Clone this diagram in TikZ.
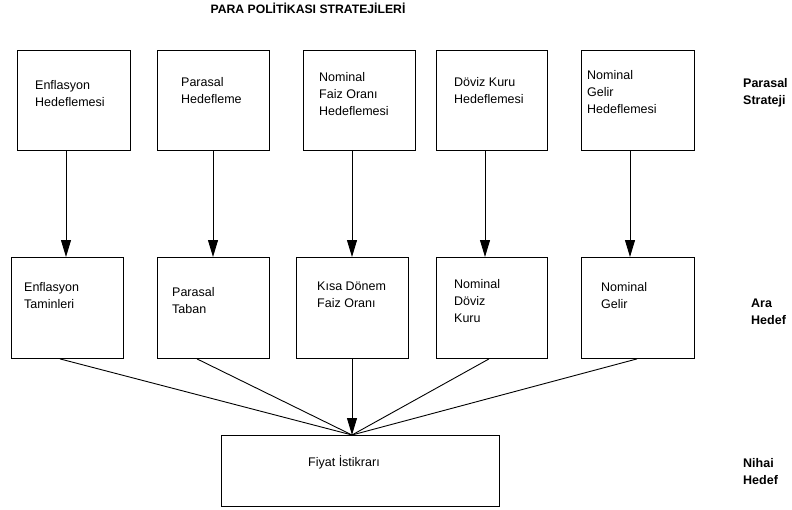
\documentclass[tikz,border=0pt]{standalone}
\usepackage{fontspec}
\setmainfont{Liberation Sans}
\usetikzlibrary{arrows.meta}
\begin{document}
\begin{tikzpicture}[x=1pt,y=-1pt,
  box/.style={draw,line width=0.9pt,inner sep=0pt,anchor=north west},
  txt/.style={anchor=base west,inner sep=0pt,align=left,font=\fontsize{12.5}{17}\selectfont},
  lbl/.style={anchor=base west,inner sep=0pt,align=left,font=\fontsize{12.5}{17.5}\selectfont\bfseries},
  arr/.style={line width=0.9pt,-{Triangle[length=17pt,width=10pt]}},
  conn/.style={line width=0.9pt}]
\useasboundingbox (0,0) rectangle (792,509);
% title
\node[anchor=base,inner sep=0pt,font=\fontsize{12.2}{14}\selectfont\bfseries] (title) at (308,13) {PARA POLİTİKASI STRATEJİLERİ};
% top boxes
\node[box,minimum width=113pt,minimum height=100pt] (t1) at (17,50) {};
\node[box,minimum width=112pt,minimum height=100pt] (t2) at (157,50) {};
\node[box,minimum width=112pt,minimum height=100pt] (t3) at (303,50) {};
\node[box,minimum width=111pt,minimum height=100pt] (t4) at (436,50) {};
\node[box,minimum width=113pt,minimum height=100pt] (t5) at (581,50) {};
% base anchor = baseline of last line
\node[txt] (tt1) at (35,106) {Enflasyon\\Hedeflemesi};
\node[txt] (tt2) at (181,103) {Parasal\\Hedefleme};
\node[txt] (tt3) at (319,115) {Nominal\\Faiz Oranı\\Hedeflemesi};
\node[txt] (tt4) at (454,103) {Döviz Kuru\\Hedeflemesi};
\node[txt] (tt5) at (587,113) {Nominal\\Gelir\\Hedeflemesi};
% middle boxes
\node[box,minimum width=112pt,minimum height=101pt] (m1) at (11,257) {};
\node[box,minimum width=112pt,minimum height=101pt] (m2) at (157,257) {};
\node[box,minimum width=112pt,minimum height=101pt] (m3) at (296,257) {};
\node[box,minimum width=111pt,minimum height=101pt] (m4) at (436,257) {};
\node[box,minimum width=113pt,minimum height=101pt] (m5) at (581,257) {};
\node[txt] (mt1) at (24,308) {Enflasyon\\Taminleri};
\node[txt] (mt2) at (172,313) {Parasal\\Taban};
\node[txt] (mt3) at (317,307) {Kısa Dönem\\Faiz Oranı};
\node[txt] (mt4) at (454,322) {Nominal\\Döviz\\Kuru};
\node[txt] (mt5) at (601,308) {Nominal\\Gelir};
% bottom box
\node[box,minimum width=278pt,minimum height=71pt] (f) at (221,435) {};
\node[txt] (ft) at (308,466) {Fiyat İstikrarı};
% side labels
\node[lbl] (l1) at (743,104.5) {Parasal\\Strateji};
\node[lbl] (l2) at (751,324.5) {Ara\\Hedef};
\node[lbl] (l3) at (743,484.5) {Nihai\\Hedef};
% arrow x positions
\coordinate (a1) at (66,0);
\coordinate (a2) at (213,0);
\coordinate (a3) at (352,0);
\coordinate (a4) at (485,0);
\coordinate (a5) at (630,0);
\draw[arr] (t1.south -| a1) -- (m1.north -| a1);
\draw[arr] (t2.south -| a2) -- (m2.north -| a2);
\draw[arr] (t3.south -| a3) -- (m3.north -| a3);
\draw[arr] (t4.south -| a4) -- (m4.north -| a4);
\draw[arr] (t5.south -| a5) -- (m5.north -| a5);
% converging
\coordinate (b1) at (60,0);
\coordinate (b2) at (197,0);
\coordinate (b4) at (489,0);
\coordinate (b5) at (637,0);
\draw[conn] (m1.south -| b1) -- (f.north -| a3);
\draw[conn] (m2.south -| b2) -- (f.north -| a3);
\draw[conn] (m4.south -| b4) -- (f.north -| a3);
\draw[conn] (m5.south -| b5) -- (f.north -| a3);
\draw[arr] (m3.south -| a3) -- (f.north -| a3);
\end{tikzpicture}
\end{document}
